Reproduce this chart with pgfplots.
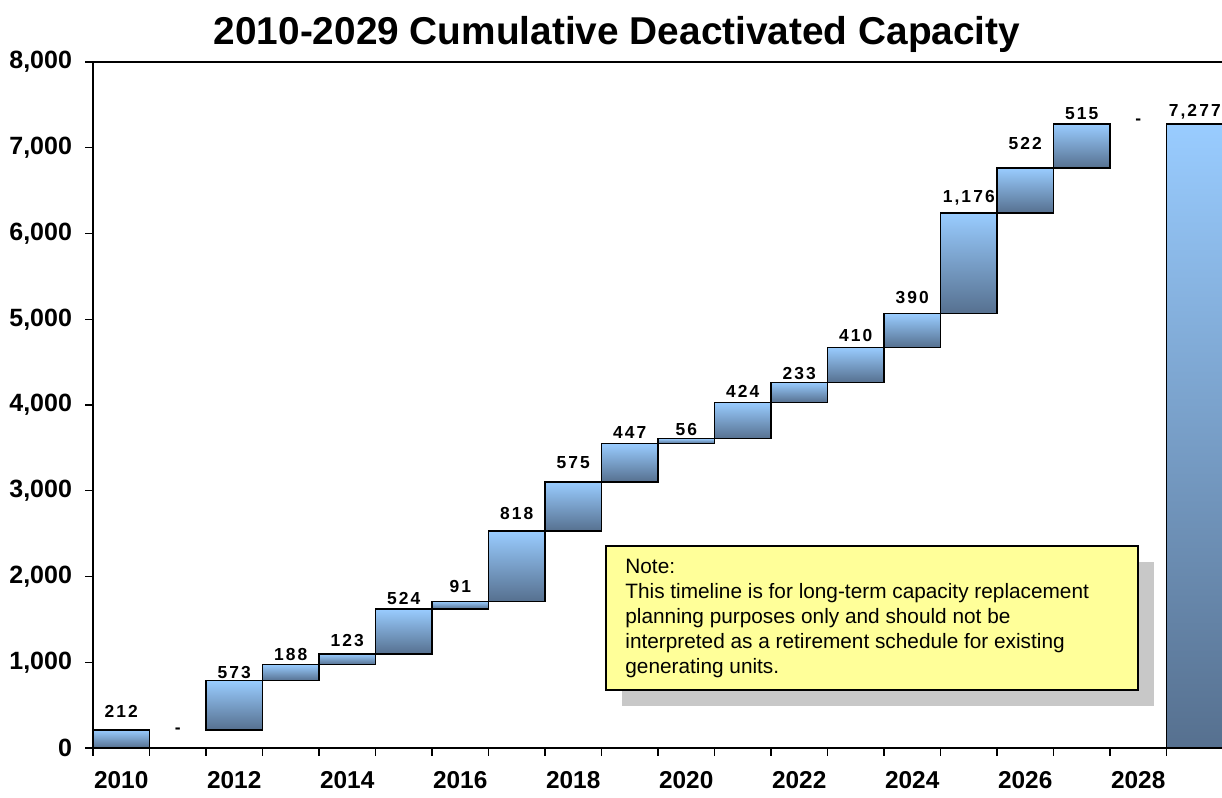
\documentclass[border=0pt]{standalone}
\usepackage{fontspec}
\setmainfont{Liberation Sans}
\usepackage{pgfplots}
\usepackage{pgfplotstable}
\pgfplotsset{compat=1.18}

\definecolor{barTop}{RGB}{153,204,255}
\definecolor{barBot}{RGB}{86,112,143}
\definecolor{noteYellow}{RGB}{255,255,153}
\definecolor{shadowGray}{RGB}{200,200,200}

% waterfall steps: each bar runs from base to base+delta
\pgfplotstableread{
year base delta
2010 0    212
2012 212  573
2013 785  188
2014 973  123
2015 1096 524
2016 1620 91
2017 1711 818
2018 2529 575
2019 3104 447
2020 3551 56
2021 3607 424
2022 4031 233
2023 4264 410
2024 4674 390
2025 5064 1176
2026 6240 522
2027 6762 515
2029 0    7277
}\steps

% value labels (baseline height)
\pgfplotstableread{
year laby lab
2010 350  212
2012 816  573
2013 1026 188
2014 1178 123
2015 1679 524
2016 1819 91
2017 2659 818
2018 3265 575
2019 3615 447
2020 3650 56
2021 4093 424
2022 4292 233
2023 4735 410
2024 5178 390
2025 6356 1,176
2026 6974 522
2027 7324 515
2029 7359 7,277
}\labels

\pgfplotstableread{
year laby lab
2011 200  -
2028 7300 -
}\dashes

\begin{document}
\begin{tikzpicture}
\useasboundingbox (0,0) rectangle (611pt,399pt);

\node[anchor=base, font=\bfseries\fontsize{19.4}{22}\selectfont] at (308.5pt,376.5pt)
  {2010-2029 Cumulative Deactivated Capacity};

\begin{axis}[
  width=565pt, height=343pt, scale only axis,
  at={(46.5pt,25pt)}, anchor=south west,
  xmin=2009.5, xmax=2029.5,
  ymin=0, ymax=8000,
  axis lines=left,
  axis line style={-, line width=1pt},
  tick align=outside,
  major tick length=4pt,
  tick style={black, line width=0.7pt},
  xtick={2009.5,2010.5,...,2028.5},
  xticklabels={2010,,2012,,2014,,2016,,2018,,2020,,2022,,2024,,2026,,2028,},
  x tick label style={xshift=14.125pt, yshift=-4pt, font=\bfseries\fontsize{12.2}{14}\selectfont},
  ytick={0,1000,...,8000},
  y tick label style={xshift=-3pt, font=\bfseries\fontsize{12.5}{14}\selectfont},
  /pgf/number format/.cd, 1000 sep={,}, assume math mode=true,
  /pgfplots/.cd,
  clip=false,
]
  % one shaded box per step, hung below its top point
  \addplot[
    scatter, only marks, mark=*, mark size=0pt,
    mark options={draw=none, fill=none},
    visualization depends on={\thisrow{delta} \as \dlt},
    scatter/@pre marker code/.code={%
      \shadedraw[top color=barTop, bottom color=barBot, draw=black, line width=0.7pt]
        (axis direction cs:-0.5,0) rectangle (axis direction cs:0.5,-\dlt);
    },
    scatter/@post marker code/.code={},
  ] table[x=year, y expr=\thisrow{base}+\thisrow{delta}] {\steps};

  \addplot[draw=none, mark=none, nodes near coords, point meta=explicit symbolic,
    every node near coord/.append style={anchor=base, inner sep=0pt,
      font=\bfseries\fontsize{8.7}{10}\selectfont\addfontfeature{LetterSpace=12}}]
    table[x=year, y=laby, meta=lab] {\labels};
  \addplot[draw=none, mark=none, nodes near coords, point meta=explicit symbolic,
    every node near coord/.append style={anchor=center, inner sep=0pt,
      font=\bfseries\fontsize{8.7}{10}\selectfont}]
    table[x=year, y=laby, meta=lab] {\dashes};

  % top border line
  \draw[line width=1pt] (rel axis cs:0,1) -- (rel axis cs:1.01,1);
\end{axis}

% note with drop shadow
\fill[shadowGray] (311pt,46pt) rectangle (577pt,118pt);
\draw[fill=noteYellow, line width=1pt] (303pt,54pt) rectangle (569pt,126pt);
\node[anchor=north west, align=left, inner sep=0pt,
      font=\fontsize{10.4}{12.5}\selectfont] at (312.5pt,119.5pt)
  {Note:\\
   This timeline is for long-term capacity replacement\\
   planning purposes only and should not be\\
   interpreted as a retirement schedule for existing\\
   generating units.};
\end{tikzpicture}
\end{document}
